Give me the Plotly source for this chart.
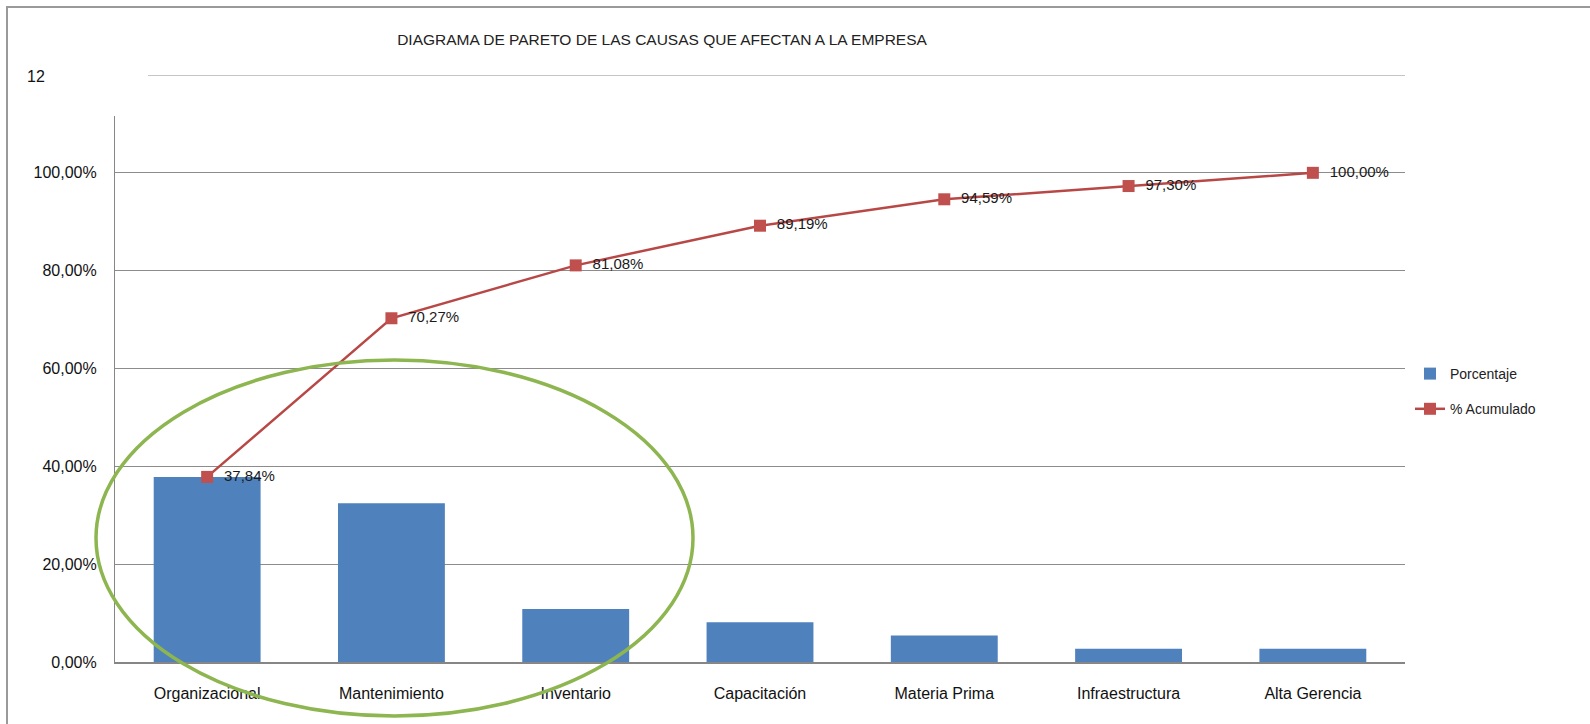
import plotly.graph_objects as go

categorias = ["Organizacional", "Mantenimiento", "Inventario", "Capacitación",
              "Materia Prima", "Infraestructura", "Alta Gerencia"]
porcentaje = [37.84, 32.43, 10.81, 8.11, 5.41, 2.70, 2.70]
acumulado = [37.84, 70.27, 81.08, 89.19, 94.59, 97.30, 100.00]
tick_vals = [0, 20, 40, 60, 80, 100, 120]
tick_text = ["0,00%", "20,00%", "40,00%", "60,00%", "80,00%", "100,00%", ""]

etiquetas = [f"{v:.2f}%".replace(".", ",") for v in acumulado]

W, H = 1590, 724
L, R, T, B = 115, 185, 75, 62
pw, ph = W - L - R, H - T - B


def px(x):
    return (x - L) / pw


def py(y):
    return (H - B - y) / ph


fig = go.Figure()
fig.add_trace(go.Bar(
    x=categorias, y=porcentaje, name="Porcentaje", legendgroup="a",
    marker=dict(color="#4F81BD", line=dict(width=0)),
))
fig.add_trace(go.Scatter(
    x=categorias, y=acumulado, name="% Acumulado", legendgroup="b",
    mode="lines+markers+text",
    line=dict(color="#B84846", width=2.5),
    marker=dict(symbol="square", size=12, color="#C0504D"),
    text=["  " + t for t in etiquetas], textposition="middle right",
    textfont=dict(family="Liberation Sans, Arial, sans-serif", size=15, color="#1a1a1a"),
    cliponaxis=False,
))

font_main = "Liberation Sans, Arial, sans-serif"

fig.update_layout(
    width=W, height=H,
    margin=dict(l=L, r=R, t=T, b=B),
    paper_bgcolor="white", plot_bgcolor="white",
    bargap=0.42,
    title=dict(text="DIAGRAMA DE PARETO DE LAS CAUSAS QUE AFECTAN A LA EMPRESA",
               x=(450 + 874) / 2 / W, xanchor="center", y=1 - 40 / H, yanchor="middle",
               font=dict(family=font_main, size=15.5, color="#222")),
    showlegend=True,
    legend=dict(x=px(1410), y=py(358), xanchor="left", yanchor="top",
                font=dict(family=font_main, size=14, color="#222"),
                bgcolor="rgba(0,0,0,0)", traceorder="grouped", tracegroupgap=14),
    xaxis=dict(showgrid=False, showline=True, linecolor="#868686", linewidth=1.5,
               ticks="", tickfont=dict(family=font_main, size=16, color="#111"),
               ticklabelstandoff=16, automargin=False),
    yaxis=dict(range=[0, 120], tickvals=tick_vals, ticktext=tick_text,
               showgrid=True, gridcolor="#8c8c8c", gridwidth=1.2,
               showline=True, linecolor="#868686", linewidth=1.2,
               zeroline=False, ticks="",
               tickfont=dict(family=font_main, size=16, color="#111"),
               ticklabelstandoff=14, automargin=False),
    shapes=[
        # outer frame
        dict(type="rect", xref="paper", yref="paper",
             x0=px(7), x1=px(1700), y0=py(800), y1=py(7),
             line=dict(color="#9a9a9a", width=2), layer="below"),
        # hide the top segment of the axis
        dict(type="rect", xref="paper", yref="paper",
             x0=px(112), x1=px(148), y0=py(116), y1=py(68),
             fillcolor="white", line=dict(width=0), layer="above"),
        # top gridline (120%)
        dict(type="line", xref="paper", yref="y",
             x0=px(148), x1=1, y0=120, y1=120,
             line=dict(color="#8c8c8c", width=1.2), layer="below"),
        # green ellipse
        dict(type="circle", xref="paper", yref="paper",
             x0=px(96), x1=px(693), y0=py(716), y1=py(360),
             line=dict(color="#8DB550", width=3.5), layer="above"),
    ],
    annotations=[
        dict(text="12", xref="paper", yref="paper", x=px(25), y=py(76),
             xanchor="left", yanchor="middle", showarrow=False,
             font=dict(family=font_main, size=16, color="#111")),
    ],
)

fig.write_html("out.html", config={"displayModeBar": False},
               post_script="document.body.style.margin='0';document.body.style.overflow='hidden';")
